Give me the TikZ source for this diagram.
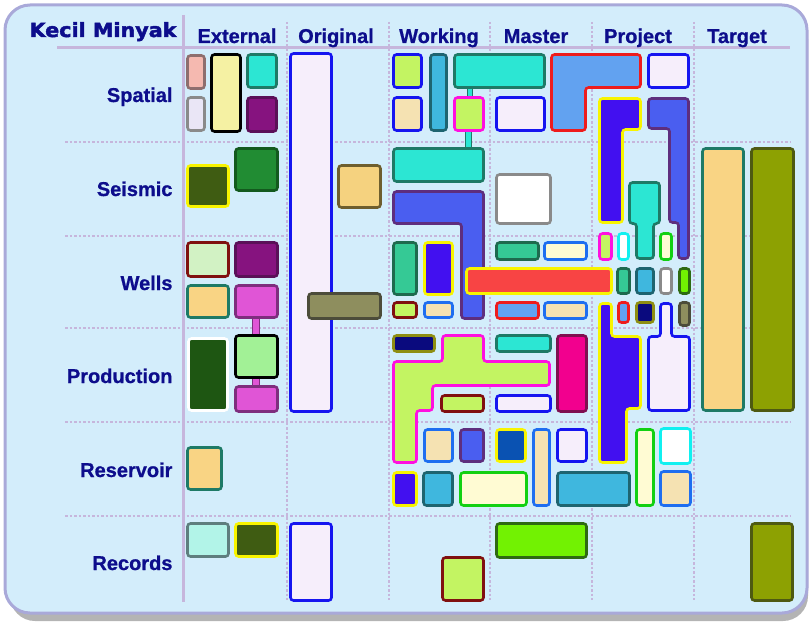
\documentclass[tikz,border=0pt]{standalone}
\usepackage{fontspec}
\setmainfont{Liberation Sans}
\newfontfamily\titlefnt[FakeBold=2.2]{DejaVu Sans Bold}
\newfontfamily\lblfnt[FakeBold=0.8]{Liberation Sans Bold}
\definecolor{bgc}{HTML}{D3EDFB}
\definecolor{framec}{HTML}{A9A9D9}
\definecolor{gridc}{HTML}{C6B6DC}
\definecolor{navyt}{HTML}{0D0D8C}
\definecolor{salmon}{HTML}{F5B9B0}
\definecolor{salmonb}{HTML}{8E6E6E}
\definecolor{lavone}{HTML}{EAE6F6}
\definecolor{greyb}{HTML}{8A8A8A}
\definecolor{paley}{HTML}{F5F1A3}
\definecolor{turq}{HTML}{2CE6D3}
\definecolor{tealb}{HTML}{1E7A66}
\definecolor{purp}{HTML}{86137F}
\definecolor{purpb}{HTML}{5A1058}
\definecolor{lavbox}{HTML}{F6EEFB}
\definecolor{blueb}{HTML}{1515F0}
\definecolor{oliveg}{HTML}{8E8E5E}
\definecolor{olivegb}{HTML}{4C4C3A}
\definecolor{tanc}{HTML}{F5D27F}
\definecolor{tanb}{HTML}{6E5E2E}
\definecolor{limec}{HTML}{C3F462}
\definecolor{magb}{HTML}{FF10E0}
\definecolor{tanpale}{HTML}{F5E2B2}
\definecolor{bluemb}{HTML}{1E6EF0}
\definecolor{skyc}{HTML}{3FB7DE}
\definecolor{skyb}{HTML}{1E6470}
\definecolor{royal}{HTML}{4A5EF0}
\definecolor{royalb}{HTML}{5E2E7E}
\definecolor{cornf}{HTML}{62A2F0}
\definecolor{redb}{HTML}{EE1C1C}
\definecolor{indigo}{HTML}{4210F0}
\definecolor{yelb}{HTML}{F8F400}
\definecolor{peach}{HTML}{F9D484}
\definecolor{olivec}{HTML}{8DA102}
\definecolor{olivecb}{HTML}{4E5A12}
\definecolor{darkol}{HTML}{3F5C12}
\definecolor{greenc}{HTML}{218C33}
\definecolor{greencb}{HTML}{135A1E}
\definecolor{lgreen}{HTML}{D2F2C4}
\definecolor{dredb}{HTML}{801010}
\definecolor{orchid}{HTML}{E055D6}
\definecolor{orchidb}{HTML}{7E2E7E}
\definecolor{dgreen}{HTML}{1E5612}
\definecolor{mint}{HTML}{A2F196}
\definecolor{pcyan}{HTML}{B2F4E8}
\definecolor{pcyanb}{HTML}{5E7E7E}
\definecolor{bgreen}{HTML}{72F202}
\definecolor{bgreenb}{HTML}{2E6A12}
\definecolor{seag}{HTML}{35C995}
\definecolor{seagb}{HTML}{1E6A4E}
\definecolor{redc}{HTML}{F84444}
\definecolor{cream}{HTML}{FFFBD3}
\definecolor{greenb}{HTML}{12D012}
\definecolor{navyc}{HTML}{0A0A7E}
\definecolor{navycb}{HTML}{8E8E12}
\definecolor{magbar}{HTML}{F2008E}
\definecolor{magbarb}{HTML}{7E1050}
\definecolor{deepb}{HTML}{0A52B2}
\definecolor{cyanb}{HTML}{10F0F0}
\definecolor{shadowc}{HTML}{B4B4B4}
\newcommand{\RB}[6]{\draw[bx,fill=#5,draw=#6] ({#1+1.5},{#2+1.5}) rectangle ({#3-1.5},{#4-1.5});}
\tikzset{
  bx/.style={line width=2.6pt, rounded corners=3pt},
  stub/.style={line width=1pt},
  vgrid/.style={draw=gridc, line width=1.4pt, dash pattern=on 2.5pt off 2pt},
  hgrid/.style={draw=gridc, line width=1.4pt, dash pattern=on 2.5pt off 2pt},
  thickgrid/.style={draw=gridc, line width=3pt},
  colh/.style={anchor=base, text=navyt, font=\lblfnt\fontsize{20}{24}\selectfont},
  rowh/.style={anchor=base east, text=navyt, font=\lblfnt\fontsize{20}{24}\selectfont},
}
\begin{document}
\begin{tikzpicture}[x=1pt,y=-1pt]
\useasboundingbox (0,0) rectangle (810,623);
% frame
\fill[shadowc, rounded corners=25pt] (10,14) rectangle (808,621);
\draw[fill=bgc, draw=framec, line width=3pt, rounded corners=25pt] (5,5) rectangle (807,613);
% grid
\draw[thickgrid] (183,15) -- (183,602);
\foreach \gx in {287,389,490,592,694} \draw[vgrid] (\gx,22) -- (\gx,600);
\draw[thickgrid] (57,48) -- (790,48);
\foreach \gy in {142,236,328,422,516} \draw[hgrid] (65,\gy) -- (790,\gy);
% headers
\node[anchor=base, text=navyt, font=\titlefnt\fontsize{19.5}{24}\selectfont, xscale=1.06] (title) at (103,37) {Kecil Minyak};
\node[colh] (hext) at (237,43) {External};
\node[colh] (horig) at (336,43) {Original};
\node[colh] (hwork) at (439,43) {Working};
\node[colh] (hmast) at (536,43) {Master};
\node[colh] (hproj) at (638,43) {Project};
\node[colh] (htarg) at (737,43) {Target};
\node[rowh] (rspat) at (176,102) {Spatial};
\node[rowh] (rseis) at (176,196) {Seismic};
\node[rowh] (rwell) at (176,290) {Wells};
\node[rowh] (rprod) at (176,383) {Production};
\node[rowh] (rres) at (176,477) {Reservoir};
\node[rowh] (rrec) at (176,570) {Records};
% connector stubs
\draw[stub, fill=turq, draw=tealb] (467,87) rectangle (472,98);
\draw[stub, fill=turq, draw=tealb] (465,130) rectangle (471,149);
\draw[stub, fill=orchid, draw=orchidb] (252,317) rectangle (259,336);
\draw[stub, fill=orchid, draw=orchidb] (252,377) rectangle (259,387);
% External column
\RB{186}{54}{206}{90}{salmon}{salmonb}
\RB{186}{96}{206}{132}{lavone}{greyb}
\RB{210}{53}{242}{133}{paley}{black}
\RB{246}{53}{278}{89}{turq}{tealb}
\RB{246}{96}{278}{133}{purp}{purpb}
\RB{186}{164}{230}{208}{darkol}{yelb}
\RB{234}{147}{279}{192}{greenc}{greencb}
\RB{186}{241}{230}{278}{lgreen}{dredb}
\RB{234}{241}{279}{278}{purp}{purpb}
\RB{186}{284}{230}{319}{peach}{tealb}
\RB{234}{284}{279}{319}{orchid}{orchidb}
\RB{187}{337}{229}{412}{dgreen}{white}
\RB{234}{334}{279}{379}{mint}{black}
\RB{234}{385}{279}{413}{orchid}{orchidb}
\RB{186}{446}{223}{491}{peach}{tealb}
\RB{186}{522}{230}{558}{pcyan}{pcyanb}
\RB{234}{522}{279}{558}{darkol}{yelb}
% Original column
\RB{289}{52}{333}{413}{lavbox}{blueb}
\RB{337}{164}{382}{209}{tanc}{tanb}
\RB{307}{292}{382}{320}{oliveg}{olivegb}
\RB{289}{522}{333}{602}{lavbox}{blueb}
% Working column
\RB{392}{53}{423}{89}{limec}{blueb}
\RB{392}{96}{423}{132}{tanpale}{blueb}
\RB{429}{53}{448}{132}{skyc}{skyb}
\RB{453}{53}{546}{89}{turq}{tealb}
\RB{453}{96}{485}{132}{limec}{magb}
\RB{392}{147}{485}{183}{turq}{tealb}
\draw[bx, fill=royal, draw=royalb] (393.5,191.5) -- (483.5,191.5) -- (483.5,318.5) -- (461.5,318.5) -- (461.5,223.5) -- (393.5,223.5) -- cycle;
\RB{392}{241}{418}{296}{seag}{seagb}
\RB{423}{241}{454}{296}{indigo}{yelb}
\RB{392}{301}{418}{319}{limec}{dredb}
\RB{423}{301}{454}{319}{tanpale}{bluemb}
\RB{392}{334}{436}{353}{navyc}{navycb}
\draw[bx, fill=limec, draw=magb] (442.5,335.5) -- (483.5,335.5) -- (483.5,361.5) -- (549.5,361.5) -- (549.5,385.5) -- (432.5,385.5) -- (432.5,410.5) -- (416.5,410.5) -- (416.5,462.5) -- (393.5,462.5) -- (393.5,361.5) -- (442.5,361.5) -- cycle;
\RB{440}{394}{485}{413}{limec}{dredb}
\RB{423}{428}{454}{463}{tanpale}{bluemb}
\RB{459}{428}{485}{463}{royal}{royalb}
\RB{392}{471}{418}{507}{indigo}{yelb}
\RB{422}{471}{454}{507}{skyc}{skyb}
\RB{459}{471}{528}{507}{cream}{greenb}
\RB{441}{556}{485}{602}{limec}{dredb}
% Master column
\RB{495}{96}{546}{132}{lavbox}{blueb}
\draw[bx, fill=cornf, draw=redb] (551.5,54.5) -- (640.5,54.5) -- (640.5,87.5) -- (585.5,87.5) -- (585.5,130.5) -- (551.5,130.5) -- cycle;
\RB{495}{173}{552}{225}{white}{greyb}
\RB{495}{241}{540}{261}{seag}{seagb}
\RB{543}{241}{588}{261}{cream}{bluemb}
\RB{495}{301}{540}{320}{cornf}{redb}
\RB{543}{301}{588}{320}{tanpale}{bluemb}
\RB{495}{334}{552}{353}{turq}{tealb}
\RB{495}{394}{552}{413}{lavbox}{blueb}
\RB{556}{334}{588}{413}{magbar}{magbarb}
\RB{495}{428}{527}{463}{deepb}{yelb}
\RB{532}{428}{551}{507}{tanpale}{bluemb}
\RB{556}{428}{588}{463}{lavbox}{blueb}
\RB{556}{471}{631}{507}{skyc}{skyb}
\RB{495}{522}{588}{559}{bgreen}{bgreenb}
% Project column
\RB{647}{53}{690}{89}{lavbox}{blueb}
\draw[bx, fill=indigo, draw=yelb] (599.5,98.5) -- (640.5,98.5) -- (640.5,129.5) -- (622.5,129.5) -- (622.5,222.5) -- (599.5,222.5) -- cycle;
\draw[bx, fill=royal, draw=royalb] (648.5,98.5) -- (688.5,98.5) -- (688.5,258.5) -- (678.5,258.5) -- (678.5,222.5) -- (669.5,222.5) -- (669.5,128.5) -- (648.5,128.5) -- cycle;
\draw[bx, fill=turq, draw=tealb] (629.5,182.5) -- (659.5,182.5) -- (659.5,223.5) -- (653.5,223.5) -- (653.5,258.5) -- (636.5,258.5) -- (636.5,223.5) -- (629.5,223.5) -- cycle;
\RB{598}{232}{613}{261}{limec}{magb}
\RB{617}{232}{630}{261}{white}{cyanb}
\RB{659}{232}{673}{261}{cream}{greenb}
\RB{616}{267}{631}{295}{seag}{seagb}
\RB{635}{267}{655}{295}{skyc}{skyb}
\RB{659}{267}{673}{295}{white}{greyb}
\RB{678}{267}{691}{295}{bgreen}{bgreenb}
\RB{617}{301}{630}{324}{cornf}{redb}
\RB{635}{301}{655}{324}{navyc}{navycb}
\RB{678}{301}{691}{327}{oliveg}{olivegb}
\draw[bx, fill=indigo, draw=yelb] (599.5,303.5) -- (611.5,303.5) -- (611.5,336.5) -- (640.5,336.5) -- (640.5,408.5) -- (626.5,408.5) -- (626.5,462.5) -- (599.5,462.5) -- cycle;
\draw[bx, fill=lavbox, draw=blueb] (660.5,303.5) -- (671.5,303.5) -- (671.5,336.5) -- (689.5,336.5) -- (689.5,410.5) -- (648.5,410.5) -- (648.5,336.5) -- (660.5,336.5) -- cycle;
\RB{635}{428}{655}{507}{cream}{greenb}
\RB{659}{427}{692}{465}{white}{cyanb}
\RB{659}{470}{692}{507}{tanpale}{bluemb}
% red bar over working/master
\RB{465}{267}{613}{295}{redc}{yelb}
% Target column
\RB{701}{147}{745}{412}{peach}{tealb}
\RB{750}{147}{795}{412}{olivec}{olivecb}
\RB{750}{522}{794}{602}{olivec}{olivecb}
\end{tikzpicture}
\end{document}
